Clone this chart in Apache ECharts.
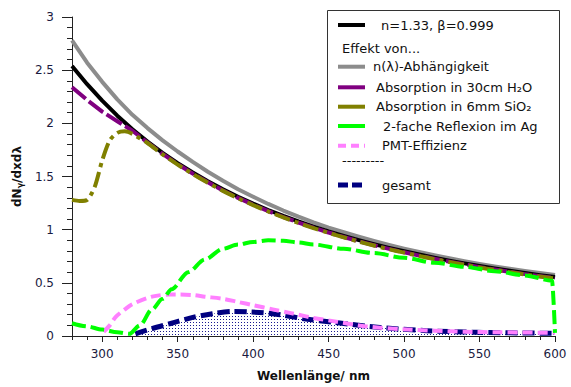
<!DOCTYPE html>
<html><head><meta charset="utf-8">
<script src="https://cdn.jsdelivr.net/npm/echarts@6/dist/echarts.min.js"></script>
<style>html,body{margin:0;padding:0;background:#fff}#c{width:571px;height:387px}</style>
</head><body><div id="c"></div>
<script>
// ---- data ----
const wl = [280,290,300,310,320,330,340,350,360,370,380,390,400,410,420,430,440,450,460,470,480,490,500,510,520,530,540,550,560,570,580,590,600];
const base = [2.54,2.368,2.213,2.072,1.945,1.829,1.723,1.626,1.537,1.455,1.379,1.309,1.245,1.185,1.129,1.077,1.029,0.983,0.941,0.901,0.864,0.829,0.797,0.766,0.736,0.709,0.683,0.658,0.635,0.613,0.592,0.572,0.555];
const nLambda = [2.78,2.57,2.39,2.225,2.08,1.955,1.84,1.735,1.637,1.545,1.46,1.38,1.31,1.242,1.18,1.122,1.069,1.02,0.976,0.934,0.894,0.857,0.822,0.79,0.759,0.731,0.704,0.678,0.655,0.633,0.612,0.592,0.573];
const absH2O = [2.34,2.22,2.11,2.02,1.93,1.82,1.712,1.616,1.527,1.445,1.369,1.299,1.235,1.175,1.119,1.067,1.019,0.973,0.931,0.891,0.854,0.819,0.787,0.756,0.726,0.699,0.673,0.648,0.625,0.603,0.582,0.562,0.545];
const sioWl = [280,285,290,295,300,305,310,315,320,330,340,350,360,370,380,390,400,410,420,430,440,450,460,470,480,490,500,510,520,530,540,550,560,570,580,590,600];
const absSiO2 = [1.28,1.27,1.28,1.40,1.65,1.84,1.91,1.925,1.90,1.815,1.708,1.612,1.523,1.441,1.365,1.295,1.231,1.171,1.115,1.063,1.015,0.97,0.928,0.888,0.851,0.816,0.784,0.753,0.723,0.696,0.67,0.645,0.622,0.6,0.579,0.559,0.542];
const agWl = [280,290,300,310,318,325,333,340,346,357,368,380,390,400,410,420,430,440,460,480,500,520,540,560,580,598,600];
const reflAg = [0.12,0.09,0.06,0.035,0.02,0.10,0.25,0.35,0.44,0.60,0.72,0.82,0.86,0.885,0.90,0.895,0.88,0.86,0.82,0.78,0.735,0.69,0.65,0.61,0.57,0.52,0.03];
const pmtWl = [301,305,309,315,320,333,345,351,360,368,380,390,400,413,425,430,440,453,475,498,520,540,564,600];
const pmt = [0.04,0.10,0.18,0.25,0.30,0.37,0.39,0.39,0.385,0.37,0.35,0.32,0.29,0.25,0.215,0.20,0.17,0.14,0.09,0.065,0.05,0.04,0.035,0.03];
const totWl = [322,333,346,360,373,386,399,413,435,453,484,515,548,600];
const total = [0.02,0.07,0.12,0.175,0.21,0.23,0.225,0.21,0.16,0.13,0.08,0.05,0.035,0.025];
const xLabels = [300,350,400,450,500,550,600];
const legendNames = ['n=1.33, β=0.999','Effekt von...','n(λ)-Abhängigkeit','Absorption in 30cm H₂O','Absorption in 6mm SiO₂','2-fache Reflexion im Ag','PMT-Effizienz','---------','gesamt'];

const pairs = (xs, ys) => xs.map((x,i)=>[x, ys[i]]);
const FONT = 'DejaVu Sans';

// dotted fill pattern
const pc = document.createElement('canvas'); pc.width = 3; pc.height = 3;
const pctx = pc.getContext('2d'); pctx.fillStyle = '#ffffff'; pctx.fillRect(0,0,3,3);
pctx.fillStyle = '#1a1a90'; pctx.fillRect(1,1,1,1);

const chart = echarts.init(document.getElementById('c'), null, {renderer:'svg'});

function ln(name, data, color, width, type, z, smooth){
  const s = {name, type:'line', data, symbol:'none', smooth: smooth || false, z,
    lineStyle:{color, width, type, cap:'butt', join:'round'}, itemStyle:{color}};
  return s;
}
const green = ln(legendNames[5], pairs(agWl,reflAg), '#00ff00', 4, [14,5], 8, 0.3);
green.smoothMonotone = 'x';
const series = [
  ln(legendNames[2], pairs(wl,nLambda), '#8c8c8c', 4, 'solid', 2),
  ln(legendNames[0], pairs(wl,base), '#000000', 4, 'solid', 3),
  ln(legendNames[3], pairs(wl,absH2O), '#800080', 4, [18,4], 4),
  ln(legendNames[4], pairs(sioWl,absSiO2), '#808000', 4, [16,5,4,5], 5, 0.25),
  Object.assign(ln(legendNames[8], pairs(totWl,total), '#000080', 5, [12,5], 6, 0.3), {areaStyle:{color:{image:pc, repeat:'repeat'}, opacity:1}}),
  green,
  ln(legendNames[6], pairs(pmtWl,pmt), '#ff80ff', 4, [10,5], 7, 0.3),
  {type:'line', xAxisIndex:1, data:[], silent:true}
];

// legend drawn as graphic
const L = {x:327, y:10, w:232, h:193};
const rows = [25,48.5,66.7,87.3,106.7,126,145.7,162,185];
const textX = [381,342,373,376,376,383,382,342,382];
const symColor = ['#000000',null,'#8c8c8c','#800080','#808000','#00ff00','#ff80ff',null,'#000080'];
const symDash = [null,null,null,null,null,null,[8,5],null,[10,4]];
const g = [{type:'rect', shape:{x:L.x+0.5,y:L.y+0.5,width:L.w,height:L.h}, style:{fill:'#fff', stroke:'#333', lineWidth:1}, z:100}];
legendNames.forEach((n,i)=>{
  if (symColor[i]) {
    g.push({type:'line', shape:{x1:338,y1:rows[i],x2:365,y2:rows[i]}, style:{stroke:symColor[i], lineWidth:i===8?5:4, lineDash:symDash[i]||null}, z:101});
  }
  g.push({type:'text', x:textX[i], y:rows[i] + (i===7?-2:0), style:{text:n, font:'13px "'+FONT+'"', fill:'#111', textVerticalAlign:'middle'}, z:101});
});

chart.setOption({
  animation:false,
  backgroundColor:'#fff',
  grid:{left:72, right:16, top:17, bottom:50},
  xAxis:[{type:'value', min:280, max:600, name:'Wellenlänge/ nm', nameLocation:'middle', nameGap:34,
      nameTextStyle:{fontFamily:FONT, fontSize:12, fontWeight:'bold', color:'#111'},
      axisLine:{lineStyle:{color:'#222', width:1}},
      axisTick:{show:true, length:6, customValues:xLabels, lineStyle:{color:'#222'}},
      axisLabel:{customValues:xLabels, margin:12, fontFamily:FONT, fontSize:12, color:'#1a1a40'},
      splitLine:{show:false}},
    {type:'value', min:280, max:600, interval:10, position:'bottom',
      axisLine:{show:false}, axisTick:{show:true, length:4, lineStyle:{color:'#222'}},
      axisLabel:{show:false}, splitLine:{show:false}}],
  yAxis:{type:'value', min:0, max:3, interval:0.5, name:'dN{s|γ}/dxdλ', nameLocation:'middle', nameGap:48,
      nameTextStyle:{fontFamily:FONT, fontSize:12, fontWeight:'bold', color:'#111',
        rich:{s:{fontFamily:FONT, fontSize:8, fontWeight:'bold', color:'#111', padding:[6,0,0,0]}}},
      axisLine:{show:true, lineStyle:{color:'#222', width:1}},
      axisTick:{show:true, length:10, lineStyle:{color:'#222'}},
      minorTick:{show:true, splitNumber:5, length:5, lineStyle:{color:'#222'}},
      axisLabel:{margin:18, fontFamily:FONT, fontSize:12, color:'#1a1a40'},
      splitLine:{show:false}},
  series,
  graphic:g
});
</script></body></html>
